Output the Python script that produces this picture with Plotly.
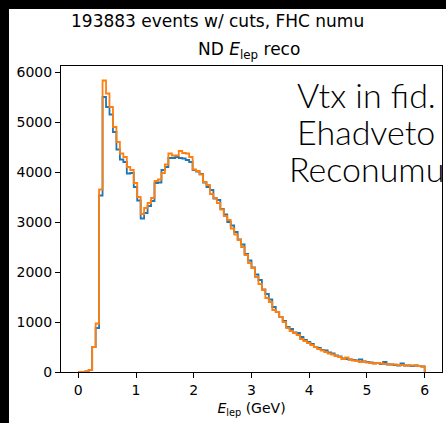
import numpy as np
import plotly.graph_objects as go

# 100 bins of E_lep between 0 and 6 GeV
bin_edges = np.linspace(0, 6, 101)

# counts per bin
counts_blue = [0, 0, 10, 40, 500, 880, 3530, 5500, 5300, 5150,
               4800, 4450, 4250, 4200, 3970, 3980, 3700, 3430, 3070, 3180,
               3320, 3420, 3780, 3790, 4040, 4100, 4280, 4280, 4300, 4280,
               4270, 4240, 4200, 4040, 4010, 3960, 3790, 3700, 3640, 3470,
               3440, 3260, 3150, 3000, 2930, 2800, 2650, 2550, 2360, 2230,
               2090, 1950, 1840, 1650, 1560, 1450, 1300, 1200, 1100, 1020,
               900, 860, 790, 780, 700, 640, 600, 560, 500, 480,
               440, 430, 390, 370, 330, 310, 270, 260, 250, 240,
               230, 250, 210, 200, 190, 175, 180, 160, 200, 150,
               150, 140, 130, 170, 130, 130, 120, 130, 120, 110]

counts_orange = [0, 0, 10, 40, 500, 970, 3650, 5830, 5570, 5300,
                 4900, 4600, 4370, 4300, 4100, 4040, 3780, 3500, 3160, 3280,
                 3380, 3480, 3820, 3850, 3980, 4150, 4370, 4330, 4330, 4420,
                 4380, 4370, 4300, 4050, 4020, 3950, 3800, 3740, 3560, 3480,
                 3380, 3250, 3120, 3040, 2870, 2750, 2640, 2500, 2340, 2180,
                 2080, 1900, 1760, 1640, 1480, 1400, 1240, 1200, 1100, 1000,
                 880, 820, 780, 740, 660, 620, 580, 540, 500, 460,
                 430, 400, 370, 350, 320, 300, 260, 290, 250, 230,
                 220, 200, 210, 190, 180, 170, 180, 170, 160, 160,
                 150, 150, 140, 140, 130, 130, 130, 130, 120, 110]

x_ticks = [0, 1, 2, 3, 4, 5, 6]
y_ticks = [0, 1000, 2000, 3000, 4000, 5000, 6000]

suptitle = "193883 events w/ cuts, FHC numu"
ax_title = "ND <i>E</i><sub>lep</sub> reco"
x_label = "<i>E</i><sub>lep</sub> (GeV)"
overlay_lines = ["Vtx in fid.", "Ehadveto", "Reconumu"]


def step_trace(counts, color, name):
    # matplotlib histtype='step' outline: drop back to 0 at the last edge
    xs = list(bin_edges[:-1]) + [bin_edges[-1], bin_edges[-1]]
    ys = list(counts) + [counts[-1], 0]
    return go.Scatter(x=xs, y=ys, mode="lines", line_shape="hv", name=name,
                      line=dict(color=color, width=1.8), showlegend=False)


fig = go.Figure()
fig.add_trace(step_trace(counts_blue, "#1f77b4", "blue"))
fig.add_trace(step_trace(counts_orange, "#ff7f0e", "orange"))

W, H = 446, 423
ml, mr, mt, mb = 61, 4, 66, 51
pw, ph = W - ml - mr, H - mt - mb


def px_x(p):
    return (p - ml) / pw


def px_y(p):
    return (H - mb - p) / ph


tick_font = dict(family="DejaVu Sans", size=14, color="black")

fig.update_layout(
    width=W, height=H,
    margin=dict(l=ml, r=mr, t=mt, b=mb, pad=0),
    paper_bgcolor="white",
    plot_bgcolor="white",
    font=tick_font,
)

# black strips along left and top edge of the screenshot
fig.add_shape(type="rect", xref="paper", yref="paper", layer="below",
              x0=px_x(-5), x1=px_x(9), y0=px_y(H + 5), y1=px_y(-5),
              fillcolor="black", line_width=0)
fig.add_shape(type="rect", xref="paper", yref="paper", layer="below",
              x0=px_x(-5), x1=px_x(W + 5), y0=px_y(9), y1=px_y(-5),
              fillcolor="black", line_width=0)

fig.update_xaxes(range=[-0.3, 6.3], tickvals=x_ticks, ticks="outside", ticklen=5,
                 tickwidth=1.1, tickcolor="black", showline=True, mirror=True,
                 linecolor="black", linewidth=1.1, showgrid=False, zeroline=False,
                 tickfont=tick_font,
                 title=dict(text=x_label, font=dict(family="DejaVu Sans", size=14, color="black"),
                            standoff=6))
fig.update_yaxes(range=[0, 6120], tickvals=y_ticks, ticks="outside", ticklen=5,
                 tickwidth=1.1, tickcolor="black", showline=True, mirror=True,
                 linecolor="black", linewidth=1.1, showgrid=False, zeroline=False,
                 tickfont=tick_font)

fig.add_annotation(text=suptitle, xref="paper", yref="paper", x=px_x(217), y=px_y(21),
                   xanchor="center", yanchor="middle", showarrow=False,
                   font=dict(family="DejaVu Sans", size=17, color="black"))
fig.add_annotation(text=ax_title, xref="paper", yref="paper", x=px_x(249), y=px_y(51),
                   xanchor="center", yanchor="middle", showarrow=False,
                   font=dict(family="DejaVu Sans", size=17, color="black"))

for txt, yc in zip(overlay_lines, [94, 131, 168]):
    fig.add_annotation(text=txt, xref="paper", yref="paper", x=px_x(366), y=px_y(yc),
                       xanchor="center", yanchor="middle", showarrow=False,
                       font=dict(family="Lato", size=34, color="black", weight=300))

# page body has an 8px default margin, drop it so the figure fills the window
fig.write_html("out.html", config={"displayModeBar": False},
               post_script="document.body.style.margin='0';document.body.style.overflow='hidden';")
